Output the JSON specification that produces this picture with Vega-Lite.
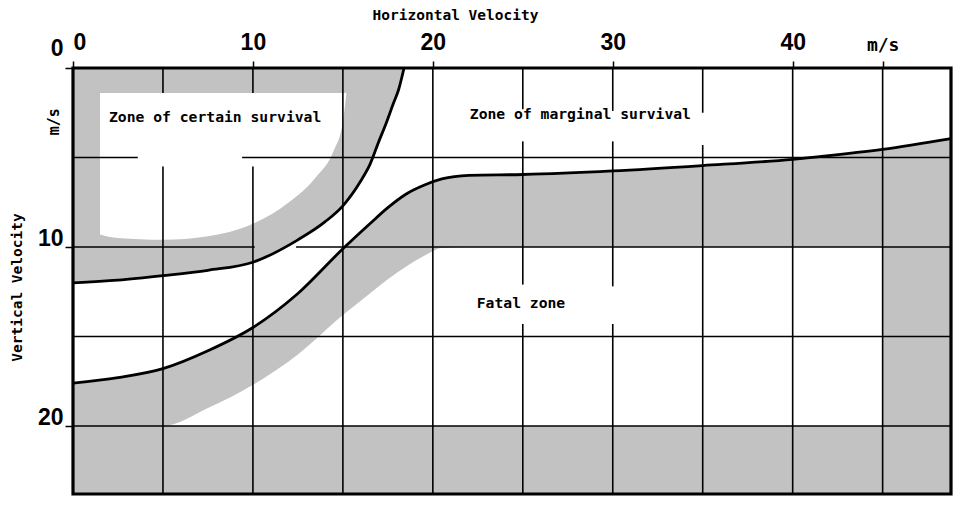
{
  "$schema": "https://vega.github.io/schema/vega-lite/v6.json",
  "width": 878,
  "height": 426,
  "autosize": {"type": "none"},
  "padding": {"left": 73, "top": 68, "right": 20, "bottom": 19},
  "background": "white",
  "config": {"view": {"stroke": null}},
  "datasets": {
    "shade": [
      {"part": "A", "x": 0, "top": 0, "bot": 12.0},
      {"part": "A", "x": 2.5, "top": 0, "bot": 11.85},
      {"part": "A", "x": 5, "top": 0, "bot": 11.6},
      {"part": "A", "x": 7.5, "top": 0, "bot": 11.3},
      {"part": "A", "x": 10, "top": 0, "bot": 10.85},
      {"part": "A", "x": 12.5, "top": 0, "bot": 9.6},
      {"part": "A", "x": 14, "top": 0, "bot": 8.6},
      {"part": "A", "x": 15, "top": 0, "bot": 7.7},
      {"part": "A", "x": 16, "top": 0, "bot": 6.3},
      {"part": "A", "x": 16.5, "top": 0, "bot": 5.4},
      {"part": "A", "x": 17, "top": 0, "bot": 4.1},
      {"part": "A", "x": 17.4, "top": 0, "bot": 3.1},
      {"part": "A", "x": 17.8, "top": 0, "bot": 2.0},
      {"part": "A", "x": 18.1, "top": 0, "bot": 1.2},
      {"part": "A", "x": 18.4, "top": 0, "bot": 0},
      {"part": "B", "x": 0, "top": 17.6, "bot": 20},
      {"part": "B", "x": 2.5, "top": 17.3, "bot": 20},
      {"part": "B", "x": 5, "top": 16.8, "bot": 20},
      {"part": "B", "x": 7.5, "top": 15.8, "bot": 19.0},
      {"part": "B", "x": 10, "top": 14.5, "bot": 17.7},
      {"part": "B", "x": 12.5, "top": 12.6, "bot": 16.0},
      {"part": "B", "x": 15, "top": 10.1, "bot": 13.8},
      {"part": "B", "x": 16.5, "top": 8.7, "bot": 12.6},
      {"part": "B", "x": 17.5, "top": 7.8, "bot": 11.8},
      {"part": "B", "x": 18.5, "top": 7.05, "bot": 11.1},
      {"part": "B", "x": 19.5, "top": 6.55, "bot": 10.5},
      {"part": "B", "x": 20.5, "top": 6.2, "bot": 10.05},
      {"part": "B", "x": 22, "top": 6.0, "bot": 10},
      {"part": "B", "x": 25, "top": 5.95, "bot": 10},
      {"part": "B", "x": 30, "top": 5.75, "bot": 10},
      {"part": "B", "x": 35, "top": 5.45, "bot": 10},
      {"part": "B", "x": 40, "top": 5.1, "bot": 10},
      {"part": "B", "x": 41.5, "top": 4.95, "bot": 10},
      {"part": "B", "x": 45, "top": 4.55, "bot": 10},
      {"part": "R", "x": 45, "top": 4.55, "bot": 23.8},
      {"part": "R", "x": 48.8, "top": 3.95, "bot": 23.8},
      {"part": "F", "x": 0, "top": 20, "bot": 23.8},
      {"part": "F", "x": 48.8, "top": 20, "bot": 23.8}
    ],
    "inner": [
      {"x": 1.5, "top": 1.4, "bot": 9.3},
      {"x": 2.5, "top": 1.4, "bot": 9.5},
      {"x": 5, "top": 1.4, "bot": 9.6},
      {"x": 7.5, "top": 1.4, "bot": 9.4},
      {"x": 10, "top": 1.4, "bot": 8.7},
      {"x": 12, "top": 1.4, "bot": 7.5},
      {"x": 13.5, "top": 1.4, "bot": 6.1},
      {"x": 14.5, "top": 1.4, "bot": 4.6},
      {"x": 15, "top": 1.4, "bot": 3.0},
      {"x": 15.2, "top": 1.4, "bot": 1.4}
    ],
    "grid": [
      {"x1": 5, "x2": 5, "y1": 0, "y2": 1.4},
      {"x1": 5, "x2": 5, "y1": 5.5, "y2": 23.8},
      {"x1": 10, "x2": 10, "y1": 0, "y2": 1.4},
      {"x1": 10, "x2": 10, "y1": 5.5, "y2": 23.8},
      {"x1": 15, "x2": 15, "y1": 0, "y2": 23.8},
      {"x1": 20, "x2": 20, "y1": 0, "y2": 23.8},
      {"x1": 25, "x2": 25, "y1": 0, "y2": 2.3},
      {"x1": 25, "x2": 25, "y1": 4.1, "y2": 12.1},
      {"x1": 25, "x2": 25, "y1": 14.3, "y2": 23.8},
      {"x1": 30, "x2": 30, "y1": 0, "y2": 2.4},
      {"x1": 30, "x2": 30, "y1": 4.1, "y2": 12.2},
      {"x1": 30, "x2": 30, "y1": 14.3, "y2": 23.8},
      {"x1": 35, "x2": 35, "y1": 0, "y2": 2.5},
      {"x1": 35, "x2": 35, "y1": 4.3, "y2": 23.8},
      {"x1": 40, "x2": 40, "y1": 0, "y2": 23.8},
      {"x1": 45, "x2": 45, "y1": 0, "y2": 23.8},
      {"x1": 0, "x2": 3.6, "y1": 5, "y2": 5},
      {"x1": 9.4, "x2": 48.8, "y1": 5, "y2": 5},
      {"x1": 0, "x2": 10.1, "y1": 10, "y2": 10},
      {"x1": 12.4, "x2": 48.8, "y1": 10, "y2": 10},
      {"x1": 0, "x2": 48.8, "y1": 15, "y2": 15},
      {"x1": 0, "x2": 48.8, "y1": 20, "y2": 20}
    ],
    "curves": [
      {"curve": "A", "x": 0, "y": 12.0},
      {"curve": "A", "x": 2.5, "y": 11.85},
      {"curve": "A", "x": 5, "y": 11.6},
      {"curve": "A", "x": 7.5, "y": 11.3},
      {"curve": "A", "x": 10, "y": 10.85},
      {"curve": "A", "x": 12.5, "y": 9.6},
      {"curve": "A", "x": 14, "y": 8.6},
      {"curve": "A", "x": 15, "y": 7.7},
      {"curve": "A", "x": 16, "y": 6.3},
      {"curve": "A", "x": 16.5, "y": 5.4},
      {"curve": "A", "x": 17, "y": 4.1},
      {"curve": "A", "x": 17.4, "y": 3.1},
      {"curve": "A", "x": 17.8, "y": 2.0},
      {"curve": "A", "x": 18.1, "y": 1.2},
      {"curve": "A", "x": 18.4, "y": 0},
      {"curve": "B", "x": 0, "y": 17.6},
      {"curve": "B", "x": 2.5, "y": 17.3},
      {"curve": "B", "x": 5, "y": 16.8},
      {"curve": "B", "x": 7.5, "y": 15.8},
      {"curve": "B", "x": 10, "y": 14.5},
      {"curve": "B", "x": 12.5, "y": 12.6},
      {"curve": "B", "x": 15, "y": 10.1},
      {"curve": "B", "x": 16.5, "y": 8.7},
      {"curve": "B", "x": 17.5, "y": 7.8},
      {"curve": "B", "x": 18.5, "y": 7.05},
      {"curve": "B", "x": 19.5, "y": 6.55},
      {"curve": "B", "x": 20.5, "y": 6.2},
      {"curve": "B", "x": 22, "y": 6.0},
      {"curve": "B", "x": 25, "y": 5.95},
      {"curve": "B", "x": 30, "y": 5.75},
      {"curve": "B", "x": 35, "y": 5.45},
      {"curve": "B", "x": 40, "y": 5.1},
      {"curve": "B", "x": 41.5, "y": 4.95},
      {"curve": "B", "x": 45, "y": 4.55},
      {"curve": "B", "x": 48.8, "y": 3.95}
    ],
    "labels": [
      {"x": 7.9, "y": 2.8, "label": "Zone of certain survival"},
      {"x": 28.2, "y": 2.6, "label": "Zone of marginal survival"},
      {"x": 24.9, "y": 13.2, "label": "Fatal zone"}
    ],
    "unit": [
      {"x": -1.05, "y": 3.0, "label": "m/s"}
    ],
    "frame": [
      {"x1": 0, "x2": 48.8, "y1": 0, "y2": 23.8}
    ]
  },
  "layer": [
    {
      "data": {"name": "shade"},
      "mark": {"type": "area", "fill": "#c2c2c2", "stroke": null, "interpolate": "monotone"},
      "encoding": {
        "x": {
          "field": "x", "type": "quantitative",
          "scale": {"domain": [0, 48.8], "nice": false, "zero": false},
          "axis": {
            "orient": "top",
            "values": [0, 10, 20, 30, 40, 45],
            "labelExpr": "datum.value == 45 ? 'm/s' : datum.label",
            "title": "Horizontal Velocity",
            "titleX": 382, "titleY": -53,
            "titleAlign": "center", "titleBaseline": "middle", "titleAngle": 0,
            "titleFont": "DejaVu Sans Mono", "titleFontSize": 14.5, "titleFontWeight": "bold", "titleColor": "black",
            "labelFont": {"condition": {"test": "datum.value == 45", "value": "DejaVu Sans Mono"}, "value": "Liberation Sans"},
            "labelFontSize": {"condition": {"test": "datum.value == 45", "value": 18}, "value": 23},
            "labelFontWeight": "bold",
            "labelColor": "black",
            "labelPadding": 7,
            "tickSize": 7, "tickColor": "black", "tickWidth": 1.5,
            "domain": false, "grid": false
          }
        },
        "y": {
          "field": "top", "type": "quantitative",
          "scale": {"domain": [0, 23.8], "nice": false, "zero": false, "reverse": true},
          "axis": {
            "orient": "left",
            "values": [0, 10, 20],
            "title": "Vertical Velocity",
            "titleX": -56, "titleY": 219,
            "titleAlign": "center", "titleBaseline": "middle", "titleAngle": 270,
            "titleFont": "DejaVu Sans Mono", "titleFontSize": 14.5, "titleFontWeight": "bold", "titleColor": "black",
            "labelFont": "Liberation Sans", "labelFontSize": 23, "labelFontWeight": "bold", "labelColor": "black",
            "labelPadding": 2, "labelOffset": -8,
            "labelBaseline": {"condition": {"test": "datum.value == 0", "value": "bottom"}, "value": "middle"},
            "tickSize": 8, "tickColor": "black", "tickWidth": 1.5,
            "domain": false, "grid": false
          }
        },
        "y2": {"field": "bot"},
        "detail": {"field": "part"}
      }
    },
    {
      "data": {"name": "inner"},
      "mark": {"type": "area", "fill": "white", "stroke": null, "interpolate": "monotone"},
      "encoding": {
        "x": {"field": "x", "type": "quantitative"},
        "y": {"field": "top", "type": "quantitative"},
        "y2": {"field": "bot"}
      }
    },
    {
      "data": {"name": "grid"},
      "mark": {"type": "rule", "color": "black", "strokeWidth": 1.6},
      "encoding": {
        "x": {"field": "x1", "type": "quantitative"},
        "x2": {"field": "x2"},
        "y": {"field": "y1", "type": "quantitative"},
        "y2": {"field": "y2"}
      }
    },
    {
      "data": {"name": "curves"},
      "mark": {"type": "line", "color": "black", "strokeWidth": 2.8, "interpolate": "monotone"},
      "encoding": {
        "x": {"field": "x", "type": "quantitative"},
        "y": {"field": "y", "type": "quantitative"},
        "detail": {"field": "curve"}
      }
    },
    {
      "data": {"name": "frame"},
      "mark": {"type": "rect", "fill": null, "fillOpacity": 0, "stroke": "black", "strokeWidth": 3.2},
      "encoding": {
        "x": {"field": "x1", "type": "quantitative"},
        "x2": {"field": "x2"},
        "y": {"field": "y1", "type": "quantitative"},
        "y2": {"field": "y2"}
      }
    },
    {
      "data": {"name": "labels"},
      "mark": {"type": "text", "font": "DejaVu Sans Mono", "fontSize": 14.7, "fontWeight": "bold", "color": "black", "align": "center", "baseline": "middle"},
      "encoding": {
        "x": {"field": "x", "type": "quantitative"},
        "y": {"field": "y", "type": "quantitative"},
        "text": {"field": "label"}
      }
    },
    {
      "data": {"name": "unit"},
      "mark": {"type": "text", "font": "DejaVu Sans Mono", "fontSize": 15, "fontWeight": "bold", "color": "black", "align": "center", "baseline": "middle", "angle": 270},
      "encoding": {
        "x": {"field": "x", "type": "quantitative"},
        "y": {"field": "y", "type": "quantitative"},
        "text": {"field": "label"}
      }
    }
  ]
}
